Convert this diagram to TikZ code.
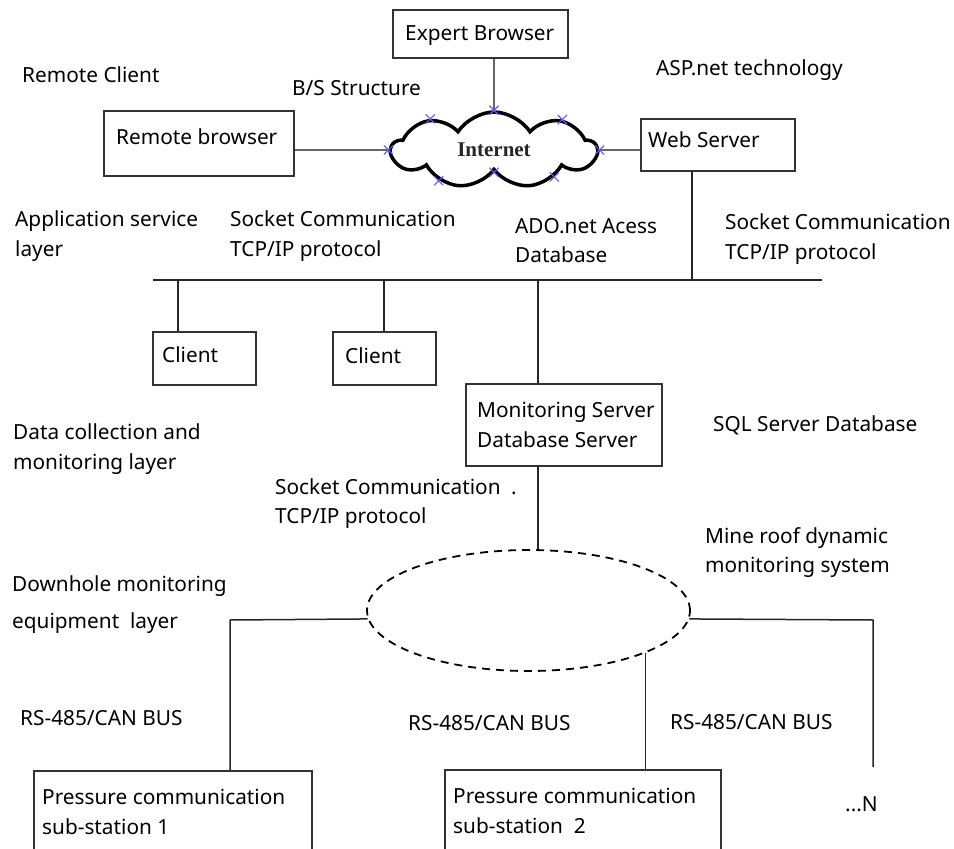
\documentclass[tikz,border=0pt]{standalone}
\usepackage{fontspec}
\setmainfont{Noto Sans}
\newfontfamily\inetfont{Liberation Serif}
\usetikzlibrary{shapes.symbols,shapes.geometric,shapes.misc,calc}
\begin{document}
\begin{tikzpicture}[x=1pt,y=-1pt,
  box/.style={draw=black!80,line width=1.3pt,inner sep=0pt},
  lbl/.style={anchor=base west,inner sep=0pt,font=\fontsize{20.8}{24}\selectfont},
  conn/.style={line width=1.5pt,draw=black!85},
  gconn/.style={line width=2pt,draw=black!60},
  xmark/.style={cross out,draw={rgb,255:red,90;green,90;blue,255},line width=1.1pt,minimum size=8pt,inner sep=0pt}]
\clip (0,0) rectangle (954,849);
% boxes
\node[box,minimum width=175pt,minimum height=48pt] (expert) at (480.5,34) {};
\node[box,minimum width=190pt,minimum height=65pt] (rb) at (199,143.5) {};
\node[box,minimum width=154pt,minimum height=52pt] (web) at (718,145) {};
\node[box,minimum width=103pt,minimum height=53pt] (client1) at (204.5,358.5) {};
\node[box,minimum width=103pt,minimum height=53pt] (client2) at (384.5,358.5) {};
\node[box,minimum width=196pt,minimum height=82pt] (mon) at (564,425) {};
\node[box,minimum width=278pt,minimum height=81pt] (ps1) at (173,811.5) {};
\node[box,minimum width=276pt,minimum height=82pt] (ps2) at (583,811) {};
% cloud
\node[cloud,draw,line width=3.5pt,cloud puffs=9,cloud puff arc=115,aspect=2.7,
      minimum width=205pt,minimum height=76pt,inner sep=0pt,
      font=\inetfont\bfseries\fontsize{21}{24}\selectfont,text=black!85] (cloud) at (494,150) {Internet};
% ellipse
\node[ellipse,draw,line width=1.8pt,dash pattern=on 8pt off 6pt,
      minimum width=323pt,minimum height=121pt,inner sep=0pt] (ell) at (528.5,610.5) {};
% connectors
\draw[gconn] (cloud.north) -- (cloud.north |- expert.south);
\draw[gconn] (cloud.west) -- (cloud.west -| rb.east);
\draw[gconn] (cloud.east) -- (cloud.east -| web.west);
\coordinate (busL) at (153,280);
\coordinate (busR) at (822,280);
\draw[conn] (busL) -- (busR);
\coordinate (tw) at (692,280);
\coordinate (t1) at (178,280);
\coordinate (t2) at (384,280);
\coordinate (t3) at (538,280);
\draw[conn] (tw |- web.south) -- (tw);
\draw[conn] (t1) -- (t1 |- client1.north);
\draw[conn] (t2) -- (t2 |- client2.north);
\draw[conn] (t3) -- (t3 |- mon.north);
\draw[conn] (t3 |- mon.south) -- (t3 |- ell.north);
\coordinate (lc) at (230,620);
\coordinate (rc) at (873,620);
\coordinate (rend) at (873,767);
\draw[conn] (ell.183.4) -- (lc) -- (lc |- ps1.north);
\draw[conn] (ell.-3.4) -- (rc) -- (rend);
\draw[conn] (ell.-20.7) -- (ell.-20.7 |- ps2.north);
% cross marks on cloud
\node[xmark] (m1) at (cloud.north) {};
\node[xmark] (m2) at (cloud.154) {};
\node[xmark] (m3) at (cloud.24) {};
\node[xmark] (m4) at (cloud.west) {};
\node[xmark] (m5) at (cloud.east) {};
\node[xmark] (m6) at (cloud.209) {};
\node[xmark] (m7) at (cloud.south) {};
\node[xmark] (m8) at (cloud.336) {};
% labels
\node[lbl] (l1) at (405,40) {Expert Browser};
\node[lbl] (l2) at (22,82) {Remote Client};
\node[lbl] (l3) at (292,95) {B/S Structure};
\node[lbl] (l4) at (656,75) {ASP.net technology};
\node[lbl] (l5) at (116,144) {Remote browser};
\node[lbl] (l6) at (648,147) {Web Server};
\node[lbl] (l7a) at (15,226) {Application service};
\node[lbl] (l7b) at (15,256) {layer};
\node[lbl] (l8a) at (230,226) {Socket Communication};
\node[lbl] (l8b) at (230,256) {TCP/IP protocol};
\node[lbl] (l9a) at (515,233) {ADO.net Acess};
\node[lbl] (l9b) at (515,262) {Database};
\node[lbl] (l10a) at (725,229) {Socket Communication};
\node[lbl] (l10b) at (725,259) {TCP/IP protocol};
\node[lbl] (l11) at (162,362) {Client};
\node[lbl] (l12) at (345,363) {Client};
\node[lbl] (l13a) at (13,439) {Data collection and};
\node[lbl] (l13b) at (13,469) {monitoring layer};
\node[lbl] (l14a) at (477,417) {Monitoring Server};
\node[lbl] (l14b) at (477,447) {Database Server};
\node[lbl] (l15) at (713,431) {SQL Server Database};
\node[lbl] (l16a) at (275,494) {Socket Communication};
\node[lbl] (l16dot) at (511,494) {.};
\node[lbl] (l16b) at (275,523) {TCP/IP protocol};
\node[lbl] (l17a) at (705,543) {Mine roof dynamic};
\node[lbl] (l17b) at (705,572) {monitoring system};
\node[lbl] (l18a) at (12,591) {Downhole monitoring};
\node[lbl] (l18b) at (12,628) {equipment\ \ layer};
\node[lbl] (l19) at (20,725) {RS-485/CAN BUS};
\node[lbl] (l20) at (408,730) {RS-485/CAN BUS};
\node[lbl] (l21) at (670,729) {RS-485/CAN BUS};
\node[lbl] (l22a) at (42,804) {Pressure communication};
\node[lbl] (l22b) at (42,834) {sub-station 1};
\node[lbl] (l23a) at (453,803) {Pressure communication};
\node[lbl] (l23b) at (453,833) {sub-station\ \ 2};
\node[lbl] (l24) at (845,811) {...N};
\end{tikzpicture}
\end{document}
